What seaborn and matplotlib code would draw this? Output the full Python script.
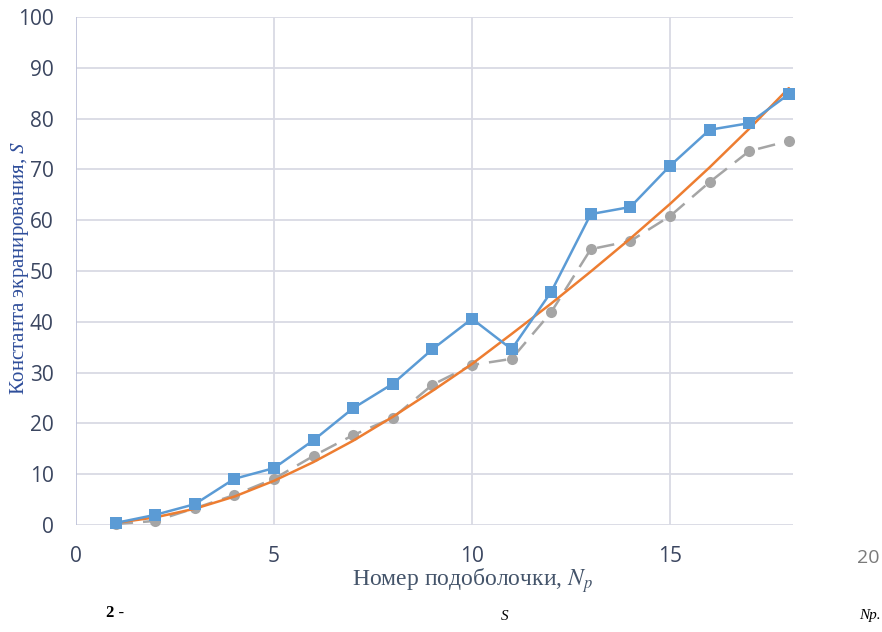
import matplotlib
matplotlib.use("Agg")
import matplotlib.pyplot as plt
import seaborn as sns
import pandas as pd

# Data
subshell = list(range(1, 19))
s_blue = [0.4, 2.0, 4.1, 9.1, 11.2, 16.7, 23.0, 27.8, 34.6, 40.6,
          34.6, 45.9, 61.2, 62.6, 70.7, 77.8, 79.1, 84.8]
s_gray = [0.2, 0.8, 3.3, 5.9, 9.1, 13.6, 17.7, 21.1, 27.6, 31.5,
          32.7, 41.9, 54.3, 55.9, 60.8, 67.5, 73.6, 75.6]
s_trend = [0.4, 1.5, 3.2, 5.6, 8.7, 12.4, 16.6, 21.3, 26.4, 31.7,
           37.6, 43.6, 49.9, 56.4, 63.2, 70.4, 78.0, 86.0]
xticks = [0, 5, 10, 15]
yticks = [0, 10, 20, 30, 40, 50, 60, 70, 80, 90, 100]

df = pd.DataFrame({"x": subshell, "blue": s_blue, "gray": s_gray, "trend": s_trend})

sns.set_theme(style="white")
plt.rcParams["font.family"] = ["Open Sans", "DejaVu Sans"]
plt.rcParams["mathtext.fontset"] = "stix"

fig = plt.figure(figsize=(8.82, 6.32), dpi=100)
ax = fig.add_axes([76 / 882, 1 - 525 / 632, (868 - 76) / 882, (525 - 17) / 632])
ax.set_xlim(0, 20)
ax.set_ylim(0, 100)

grid_c = "#D9DAE4"
xr = 18.1
ax.hlines(yticks, 0, xr, color=grid_c, lw=1.3, zorder=0)
ax.vlines([5, 10, 15], 0, 100, color=grid_c, lw=1.3, zorder=0)
ax.vlines([0], 0, 100, color="#BFC3DA", lw=1.3, zorder=0)

sns.lineplot(data=df, x="x", y="trend", ax=ax, color="#ED7D31", lw=1.8, zorder=3)
sns.lineplot(data=df, x="x", y="gray", ax=ax, color="#A5A5A5", lw=1.8,
             marker="o", markersize=8, markeredgewidth=0, zorder=2)
ax.lines[-1].set_dashes([7, 4])
sns.lineplot(data=df, x="x", y="blue", ax=ax, color="#5B9BD5", lw=1.8,
             marker="s", markersize=8, markeredgewidth=0, zorder=4)
for l in ax.lines:
    l.set_clip_on(False)

for s in ax.spines.values():
    s.set_visible(False)

tick_c = "#3B4660"
ax.set_xticks(xticks)
ax.set_xticklabels([str(t) for t in xticks])
ax.set_yticks(yticks)
ax.set_yticklabels([str(t) for t in yticks])
ax.tick_params(axis="both", length=0, labelsize=15, colors=tick_c)
ax.tick_params(axis="x", pad=15)
ax.tick_params(axis="y", pad=16)
ax.text(20, -6.5, "20", ha="center", va="center", fontsize=14, color="#7A7A7A",
        clip_on=False)

ax.set_xlabel("")
ax.set_ylabel("")
serif = ["Liberation Serif", "DejaVu Serif"]
fig.text(473 / 882, 1 - 581 / 632, "Номер подоболочки, $N_p$", ha="center", va="center",
         fontsize=17, color="#44546A", family=serif)
fig.text(20 / 882, 1 - 268 / 632, "Константа экранирования, $S$", ha="center", va="center",
         rotation=90, fontsize=15, color="#2E4D9A", family=serif)

fig.text(115 / 882, 1 - 613 / 632, "2 -", ha="center", va="center", fontsize=12,
         color="black", family=serif, weight="bold")
fig.text(505 / 882, 1 - 616 / 632, "S", ha="center", va="center", fontsize=11,
         color="black", family=serif, style="italic")
fig.text(870 / 882, 1 - 616 / 632, "Np.", ha="center", va="center", fontsize=11,
         color="black", family=serif, style="italic")

fig.savefig("out.png", dpi=100, facecolor="white")
